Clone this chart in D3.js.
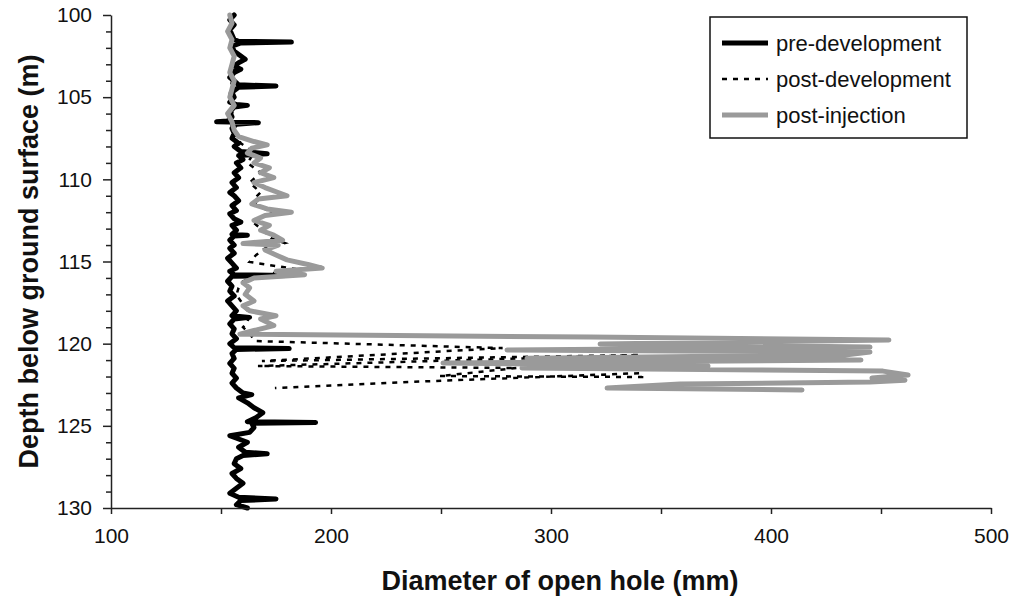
<!DOCTYPE html>
<html>
<head>
<meta charset="utf-8">
<script src="https://cdn.jsdelivr.net/npm/d3@7"></script>
<style>
  html, body { margin: 0; padding: 0; background: #fff; }
  svg { display: block; font-family: "Liberation Sans", Arial, sans-serif; }
</style>
</head>
<body>
<svg id="chart" width="1022" height="598"></svg>
<script>
// Caliper logs: [depth below ground surface (m), diameter of open hole (mm)]
const preDevelopment = [
  [100.0,156],[100.3,154],[100.6,156],[100.9,154],[101.2,155],[101.5,156],[101.6,158],[101.65,182],[101.7,159],
  [101.9,155],[102.2,156],[102.5,159],[102.7,161],[102.9,158],[103.1,156],[103.3,159],[103.5,156],[103.8,154],
  [104.0,156],[104.25,158],[104.32,175],[104.4,158],[104.7,155],[105.0,156],[105.3,154],[105.45,157],[105.5,162],
  [105.6,156],[105.9,154],[106.2,155],[106.45,153],[106.5,148],[106.55,167],[106.65,157],[106.9,155],[107.2,156],
  [107.5,155],[107.8,158],[108.0,156],[108.3,159],[108.45,171],[108.55,158],[108.8,160],[109.0,157],[109.3,159],
  [109.6,156],[109.9,158],[110.2,155],[110.5,157],[110.8,154],[111.0,156],[111.3,158],[111.6,155],[111.9,157],
  [112.1,154],[112.4,156],[112.6,159],[112.8,155],[113.1,157],[113.35,155],[113.4,162],[113.45,156],[113.7,154],
  [114.0,156],[114.2,154],[114.5,156],[114.8,153],[115.1,155],[115.4,157],[115.6,154],[115.8,156],[115.85,180],
  [115.9,155],[116.2,153],[116.5,155],[116.8,154],[117.1,156],[117.4,153],[117.7,155],[118.0,157],[118.3,155],
  [118.4,163],[118.5,156],[118.8,154],[119.1,156],[119.4,155],[119.7,157],[120.0,154],[120.25,156],[120.3,181],
  [120.35,157],[120.6,155],[120.9,156],[121.2,154],[121.5,156],[121.8,155],[122.1,157],[122.4,155],[122.7,157],
  [123.0,160],[123.1,164],[123.3,158],[123.6,162],[123.9,165],[124.2,169],[124.5,166],[124.75,162],[124.8,193],
  [124.85,164],[125.1,165],[125.4,163],[125.6,154],[125.8,158],[126.0,162],[126.3,158],[126.6,161],[126.7,171],
  [126.8,160],[127.0,157],[127.3,156],[127.6,159],[127.9,155],[128.2,157],[128.5,160],[128.8,157],[129.1,154],
  [129.35,158],[129.45,175],[129.55,159],[129.8,157],[130.0,162]
];

const postDevelopment = [
  [100.0,155],[100.8,154],[101.6,156],[102.4,155],[103.2,156],[104.0,155],[104.8,154],[105.6,156],[106.4,154],
  [107.2,156],[107.8,159],[108.4,165],[109.0,162],[109.6,168],[110.2,163],[110.8,168],[111.2,165],[111.56,166],
  [111.87,171],[111.93,176],[112.3,168],[112.66,165],[113.2,170],[113.6,173],[113.88,179],[114.2,170],[114.6,166],
  [115.03,163],[115.46,184],[115.8,170],[116.2,160],[116.6,158],[117.04,157],[117.6,160],[118.2,163],[118.7,162],
  [119.0,160],[119.4,163],[119.84,165.5],[120.27,278],[121.06,168.6],[120.69,340.5],[121.36,166.8],[121.48,284.5],
  [121.97,249.5],[122.03,341.4],[121.79,341.4],[122.28,245],[122.70,174.5]
];

const postInjection = [
  [100.0,154],[100.5,155],[101.0,153],[101.5,155],[102.0,154],[102.5,156],[103.0,155],[103.5,154],[104.0,156],
  [104.5,155],[105.0,154],[105.5,156],[106.0,153],[106.5,155],[107.0,156],[107.4,158],[107.7,165],[107.9,171],
  [108.1,164],[108.4,162],[108.7,168],[109.0,165],[109.3,172],[109.6,168],[109.9,174],[110.2,165],[110.5,170],
  [110.8,176],[111.0,180],[111.2,167],[111.5,164],[111.8,171],[112.0,182],[112.2,170],[112.5,165],[112.8,172],
  [113.1,168],[113.4,174],[113.7,178],[113.9,160],[114.0,176],[114.3,170],[114.6,175],[114.9,180],[115.2,190],
  [115.4,196],[115.6,175],[115.8,188],[116.0,165],[116.3,160],[116.6,163],[117.0,161],[117.4,165],[117.7,160],
  [118.0,163],[118.3,175],[118.5,168],[118.7,171],[118.9,174],[119.2,165],[119.42,158.6],[119.60,317.7],
  [119.78,453.6],[120.02,322.3],[120.21,445],[120.39,280],[120.51,445],[120.69,433.6],[120.88,289.1],[121.0,440.9],
  [121.18,250.9],[121.36,371.4],[121.48,286.8],[121.67,450.9],[121.91,462.3],[122.09,445.9],[122.22,460.9],
  [122.34,445],[122.46,358.6],[122.70,325.5],[122.82,414.1]
];

const xTicks = [100, 150, 200, 250, 300, 350, 400, 450, 500];
const xLabels = [100, 200, 300, 400, 500];
const yTicks = d3.range(100, 131, 1);
const yLabels = [100, 105, 110, 115, 120, 125, 130];
const seriesNames = ["pre-development", "post-development", "post-injection"];

const svg = d3.select("#chart");
const margin = { top: 15, right: 31, bottom: 90, left: 111 };
const W = 1022 - margin.left - margin.right;
const H = 598 - margin.top - margin.bottom;

const x = d3.scaleLinear().domain([100, 500]).range([0, W]);
const y = d3.scaleLinear().domain([100, 130]).range([0, H]);

const g = svg.append("g").attr("transform", `translate(${margin.left},${margin.top})`);

const line = d3.line().x(d => x(d[1])).y(d => y(d[0]));

// logs, bottom to top
g.append("path").datum(preDevelopment)
  .attr("d", line).attr("fill", "none").attr("stroke", "#000")
  .attr("stroke-width", 5).attr("stroke-linejoin", "round").attr("stroke-linecap", "round");

g.append("path").datum(postDevelopment)
  .attr("d", line).attr("fill", "none").attr("stroke", "#000")
  .attr("stroke-width", 2.5).attr("stroke-dasharray", "5,6");

g.append("path").datum(postInjection)
  .attr("d", line).attr("fill", "none").attr("stroke", "#9a9a9a")
  .attr("stroke-width", 5).attr("stroke-linejoin", "round").attr("stroke-linecap", "round");

// axes
const xAxis = d3.axisBottom(x).tickValues(xTicks)
  .tickFormat(d => xLabels.includes(d) ? d : "").tickSize(6).tickSizeOuter(0).tickPadding(14);
const gx = g.append("g").attr("transform", `translate(0,${H})`).call(xAxis);

const yAxis = d3.axisLeft(y).tickValues(yTicks)
  .tickFormat(d => yLabels.includes(d) ? d : "").tickSize(5).tickSizeOuter(0).tickPadding(14);
const gy = g.append("g").call(yAxis);
gy.selectAll(".tick line").attr("x2", d => yLabels.includes(d) ? -8 : -5);

[gx, gy].forEach(a => {
  a.select(".domain").attr("stroke", "#222").attr("stroke-width", 1.5);
  a.selectAll(".tick line").attr("stroke", "#222").attr("stroke-width", 1.5);
  a.selectAll(".tick text").attr("font-size", 21).attr("fill", "#111")
    .attr("font-family", "Liberation Sans, Arial, sans-serif");
});

// axis titles
svg.append("text")
  .attr("x", 560).attr("y", 590)
  .attr("text-anchor", "middle").attr("font-size", 27).attr("font-weight", "bold").attr("fill", "#111")
  .text("Diameter of open hole (mm)");

svg.append("text")
  .attr("transform", `translate(38,${margin.top + H / 2}) rotate(-90)`)
  .attr("text-anchor", "middle").attr("font-size", 27).attr("font-weight", "bold").attr("fill", "#111")
  .text("Depth below ground surface (m)");

// legend
const lg = svg.append("g").attr("transform", "translate(710,17)");
lg.append("rect").attr("width", 257).attr("height", 121)
  .attr("fill", "#fff").attr("stroke", "#111").attr("stroke-width", 1.5);
const styles = [
  { stroke: "#000", width: 5, dash: null },
  { stroke: "#000", width: 2.5, dash: "5,6" },
  { stroke: "#9a9a9a", width: 5, dash: null }
];
seriesNames.forEach((name, i) => {
  const yy = 26 + i * 36;
  lg.append("line").attr("x1", 12).attr("x2", 58).attr("y1", yy).attr("y2", yy)
    .attr("stroke", styles[i].stroke).attr("stroke-width", styles[i].width)
    .attr("stroke-dasharray", styles[i].dash);
  lg.append("text").attr("x", 66).attr("y", yy).attr("dy", "0.35em")
    .attr("font-size", 22).attr("fill", "#111").text(name);
});
</script>
</body>
</html>
